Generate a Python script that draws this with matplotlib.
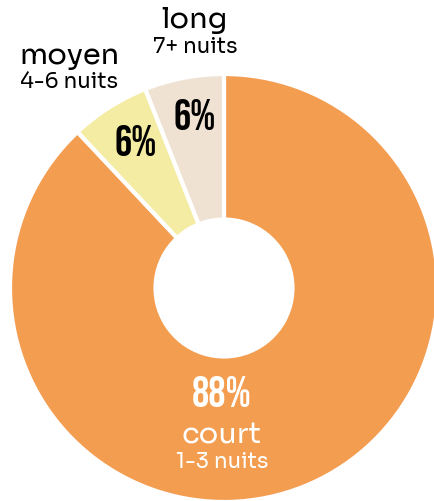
import matplotlib.pyplot as plt
from matplotlib import font_manager

labels = ['court', 'moyen', 'long']
sublabels = ['1-3 nuits', '4-6 nuits', '7+ nuits']
shares = [88, 6, 6]
colors = ['#F39D50', '#F4ECA2', '#EFE2D3']

names = set(f.name for f in font_manager.fontManager.ttflist)
# condensed face for the big numbers, first one installed wins
pct_font, pct_size = 'Anton', 24
for fam, size in [('Bebas Neue', 31), ('Anton', 24)]:
    if fam in names:
        pct_font, pct_size = fam, size
        break
lab_font = 'Sora' if 'Sora' in names else 'Lato'

W, H = 434, 502
fig = plt.figure(figsize=(W / 100, H / 100), dpi=100)
ax = fig.add_axes([0, 0, 1, 1])

# donut, centre and radius in pixel units (y up)
cx, cy, R = 224, H - 289, 214
ax.pie(shares, colors=colors, startangle=90, counterclock=False,
       center=(cx, cy), radius=R, frame=True,
       wedgeprops=dict(width=R * 0.68, edgecolor='white', linewidth=3))
ax.set_xlim(0, W)
ax.set_ylim(0, H)
ax.set_aspect('equal')
ax.axis('off')

# percentages
pct_pos = [(222, 392, 'white'), (136, 141, 'black'), (195, 114, 'black')]
for v, (x, y, c) in zip(shares, pct_pos):
    ax.text(x, H - y, f'{v}%', ha='center', va='center', color=c,
            fontsize=pct_size, family=pct_font)

# category labels
lab_pos = [(222, 436, 462, 'white'), (69, 57, 82, 'black'), (195, 20, 47, 'black')]
for name, sub, (x, y1, y2, c) in zip(labels, sublabels, lab_pos):
    ax.text(x, H - y1, name, ha='center', va='center', color=c,
            fontsize=21, family=lab_font)
    ax.text(x, H - y2, sub, ha='center', va='center', color=c,
            fontsize=15.5, family=lab_font)

fig.savefig('out.png', dpi=100)
